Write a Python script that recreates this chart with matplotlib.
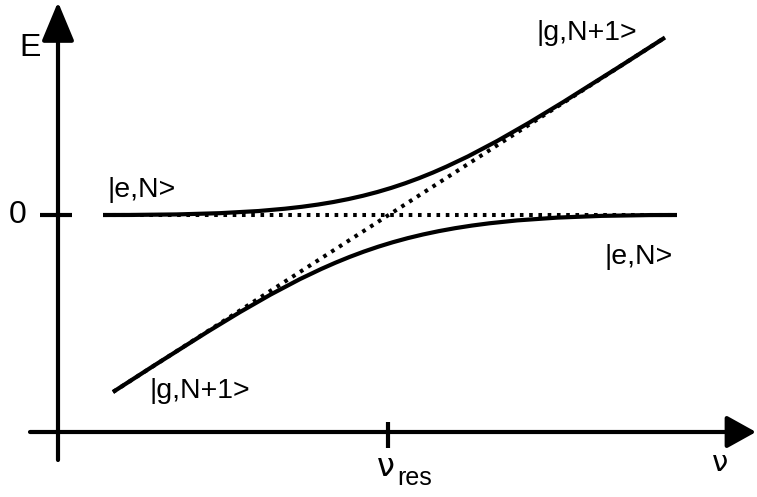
import numpy as np
import matplotlib
matplotlib.use('Agg')
import matplotlib.pyplot as plt
from matplotlib.path import Path
from matplotlib.patches import PathPatch

plt.rcParams['font.family'] = ['Liberation Sans', 'DejaVu Sans']

# detuning nu (nu_res = 0) and energy E, arbitrary units
nu_flat = [-2.85, 2.89]          # |e,N>  (uncoupled, dotted)
E_flat = [0.0, 0.0]
nu_diag = [-2.75, 2.77]          # |g,N+1> (uncoupled, dotted)
E_diag = [-1.77, 1.775]

# coupled states, cubic bezier control points
nu_upper = [-2.85, 0.0, 0.3, 2.77]
E_upper = [0.0, 0.0, 0.192, 1.775]
nu_lower = [-2.75, -0.5, 0.0, 2.89]
E_lower = [-1.77, -0.32, 0.0, 0.0]

state_labels = ['|e,N>', '|e,N>', '|g,N+1>', '|g,N+1>']
label_nu = [-2.81, 2.17, 1.49, -2.38]
label_E = [0.25, -0.42, 1.82, -1.76]

fig = plt.figure(figsize=(7.57, 4.97), dpi=100)
ax = fig.add_axes([0, 0, 1, 1])
ax.set_xlim(-3.88, 3.69)
ax.set_ylim(-2.82, 2.15)
ax.axis('off')

# axes with arrows
ax.annotate('', xy=(-3.30, 2.13), xytext=(-3.30, -2.45),
            arrowprops=dict(arrowstyle='-|>,head_length=1.2,head_width=0.5',
                            lw=3, color='k', shrinkA=0, shrinkB=0, mutation_scale=20))
ax.annotate('', xy=(3.68, -2.17), xytext=(-3.58, -2.17),
            arrowprops=dict(arrowstyle='-|>,head_length=0.9,head_width=0.5',
                            lw=3, color='k', shrinkA=0, shrinkB=0, mutation_scale=20))
ax.plot([-3.48, -3.16], [0, 0], color='k', lw=3, solid_capstyle='butt')
ax.plot([0, 0], [-2.07, -2.33], color='k', lw=3, solid_capstyle='butt')

# coupled curves
codes = [Path.MOVETO, Path.CURVE4, Path.CURVE4, Path.CURVE4]
for nus, Es in [(nu_upper, E_upper), (nu_lower, E_lower)]:
    p = Path(np.column_stack([nus, Es]), codes)
    ax.add_patch(PathPatch(p, facecolor='none', edgecolor='k', lw=3, capstyle='butt'))

# uncoupled dotted lines
dots = (0, (0.9, 1.4))
ax.plot(nu_flat, E_flat, color='k', lw=2.9, linestyle=dots, dash_capstyle='butt')
ax.plot(nu_diag, E_diag, color='k', lw=2.9, linestyle=dots, dash_capstyle='butt')

for s, x, y in zip(state_labels, label_nu, label_E):
    ax.text(x, y, s, fontsize=20.5, ha='left', va='center')

ax.text(-3.58, 1.67, 'E', fontsize=23, ha='center', va='center')
ax.text(-3.70, 0.0, '0', fontsize=23, ha='center', va='center')
ax.text(-0.02, -2.53, 'ν', fontsize=23, ha='center', va='center', family='DejaVu Sans')
ax.text(0.09, -2.63, 'res', fontsize=18, ha='left', va='center')
ax.text(3.32, -2.48, 'ν', fontsize=21, ha='center', va='center', family='DejaVu Sans')

fig.savefig('out.png', dpi=100)
